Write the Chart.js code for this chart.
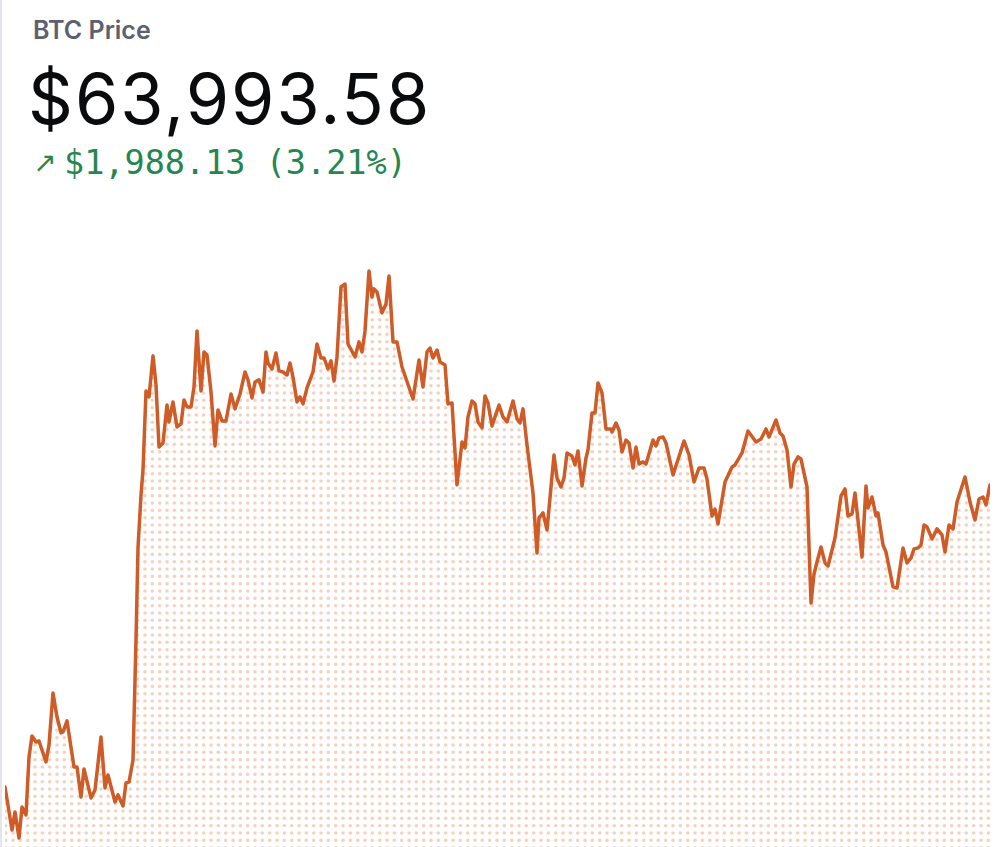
<!DOCTYPE html>
<html>
<head>
<meta charset="utf-8">
<script src="https://cdn.jsdelivr.net/npm/chart.js@4"></script>
<style>
  html, body { margin: 0; padding: 0; background: #fff; }
  #page {
    position: relative;
    width: 1000px;
    height: 847px;
    overflow: hidden;
    border-left: 2px solid #e4e5ea;
    box-sizing: border-box;
  }
  .lbl { position: absolute; white-space: nowrap; line-height: 1; }
  #title { left: 31px; top: 15px; font: 600 25px Inter, sans-serif; color: #5b616e; }
  #price { left: 26px; top: 56px; font: 400 70px Inter, sans-serif; color: #0a0b0d; letter-spacing: 2px; }
  #arrow { left: 31px; top: 146px; font: 400 28px "DejaVu Sans", sans-serif; color: #27854f; }
  #change { left: 62px; top: 143px; font: 400 33.5px "DejaVu Sans Mono", monospace; color: #27854f; }
  #chartBox { position: absolute; left: 0; top: 250px; width: 1000px; height: 597px; }
</style>
</head>
<body>
<div id="page">
  <div class="lbl" id="title">BTC Price</div>
  <div class="lbl" id="price">$63,993.58</div>
  <div class="lbl" id="arrow">↗</div>
  <div class="lbl" id="change">$1,988.13 (3.21%)</div>
  <div id="chartBox"><canvas id="priceChart" width="998" height="597"></canvas></div>
</div>
<script>
// time steps (relative position along the day) and BTC prices
const times = [
  0, 7, 10, 14, 17, 21, 24, 27, 31, 34, 41, 44, 48, 52, 56, 58, 62, 69, 72, 76,
  79, 86, 90, 96, 100, 103, 110, 113, 118, 121, 124, 128, 131, 133, 136, 138, 141, 144, 148, 151,
  154, 158, 162, 164, 168, 172, 176, 179, 182, 186, 189, 192, 196, 199, 202, 206, 210, 213, 217, 221,
  226, 230, 235, 240, 243, 247, 250, 254, 258, 261, 263, 267, 271, 274, 278, 282, 285, 288, 292, 295,
  298, 302, 308, 312, 316, 319, 323, 326, 329, 332, 336, 340, 343, 350, 354, 357, 360, 364, 367, 369,
  372, 377, 381, 384, 388, 392, 397, 408, 414, 418, 422, 425, 428, 432, 435, 440, 443, 447, 452, 457,
  460, 463, 467, 470, 473, 477, 480, 483, 487, 494, 498, 502, 508, 512, 515, 518, 522, 528, 532, 534,
  538, 542, 549, 552, 556, 559, 562, 567, 570, 573, 577, 581, 583, 587, 590, 593, 597, 601, 606, 607,
  611, 614, 617, 621, 624, 628, 631, 634, 638, 641, 648, 651, 654, 658, 661, 668, 679, 684, 689, 694,
  699, 702, 707, 710, 713, 720, 727, 730, 737, 743, 751, 756, 761, 764, 771, 775, 778, 782, 786, 789,
  793, 796, 802, 806, 809, 812, 816, 820, 823, 830, 836, 840, 843, 847, 850, 857, 861, 863, 867, 871,
  873, 878, 881, 888, 892, 898, 902, 906, 909, 913, 916, 919, 922, 927, 932, 937, 940, 944, 948, 952,
  960, 965, 970, 974, 978, 981, 985
];

const prices = [
  62005.45, 61722, 61841, 61669, 61873, 61821, 62203, 62341, 62301, 62308, 62170, 62282, 62624, 62466, 62361, 62367, 62440, 62137, 62137, 61939,
  62124, 61933, 61985, 62334, 61999, 62084, 61906, 61953, 61880, 62032, 62038, 62183, 62973, 63579, 63927, 64092, 64612, 64573, 64843, 64652,
  64243, 64270, 64520, 64408, 64540, 64375, 64395, 64553, 64507, 64507, 64638, 65007, 64612, 64869, 64849, 64605, 64250, 64487, 64415, 64415,
  64592, 64494, 64592, 64737, 64685, 64566, 64671, 64685, 64605, 64869, 64796, 64757, 64862, 64744, 64737, 64717, 64796, 64704, 64540, 64573,
  64527, 64632, 64737, 64921, 64829, 64829, 64757, 64810, 64678, 64836, 65297, 65316, 64921, 64836, 64935, 64869, 65007, 65402, 65231, 65284,
  65264, 65126, 65185, 65369, 64935, 64935, 64770, 64559, 64816, 64638, 64869, 64895, 64829, 64882, 64803, 64783, 64527, 64533, 63994, 64276,
  64237, 64441, 64546, 64527, 64408, 64369, 64579, 64533, 64382, 64520, 64441, 64408, 64546, 64428, 64401, 64494, 64257, 63941, 63546, 63776,
  63809, 63697, 64191, 64039, 63980, 64039, 64204, 64184, 64125, 64217, 63987, 64171, 64224, 64467, 64467, 64665, 64599, 64362, 64362, 64342,
  64401, 64355, 64210, 64289, 64270, 64105, 64243, 64131, 64145, 64131, 64289, 64250, 64303, 64309, 64270, 64059, 64283, 64191, 64013, 64105,
  64105, 64033, 63789, 63835, 63737, 64013, 64112, 64125, 64204, 64349, 64276, 64296, 64362, 64309, 64421, 64336, 64316, 64224, 63980, 64131,
  64178, 64164, 63980, 63216, 63407, 63486, 63585, 63480, 63460, 63644, 63921, 63967, 63789, 63802, 63941, 63519, 63987, 63842, 63914, 63789,
  63809, 63598, 63552, 63322, 63315, 63579, 63480, 63513, 63572, 63579, 63598, 63730, 63717, 63638, 63704, 63664, 63552, 63730, 63704, 63881,
  64046, 63881, 63763, 63901, 63914, 63862, 63993.58
];

const priceMin = 61610;
const priceMax = 65540;

// dotted fill pattern
function dotPattern(ctx) {
  const tile = document.createElement("canvas");
  tile.width = 22;
  tile.height = 22;
  const t = tile.getContext("2d");
  t.fillStyle = "#f4d2c1";
  [3.7, 11, 18.3].forEach((px) => {
    [3.7, 11, 18.3].forEach((py) => {
      t.beginPath();
      t.arc(px, py, 1.8, 0, Math.PI * 2);
      t.fill();
    });
  });
  return ctx.createPattern(tile, "repeat");
}

const ctx = document.getElementById("priceChart").getContext("2d");

new Chart(ctx, {
  type: "line",
  data: {
    datasets: [
      {
        label: "BTC Price",
        data: times.map((t, i) => ({ x: t, y: prices[i] })),
        borderColor: "#cf5b27",
        borderWidth: 3.5,
        borderJoinStyle: "round",
        borderCapStyle: "round",
        pointRadius: 0,
        tension: 0,
        fill: "start",
        backgroundColor: dotPattern(ctx),
      },
    ],
  },
  options: {
    responsive: false,
    animation: false,
    layout: { padding: { left: 3, right: 10, top: 0, bottom: 0 } },
    scales: {
      x: { type: "linear", min: 0, max: 985, display: false },
      y: { min: priceMin, max: priceMax, display: false },
    },
    plugins: {
      legend: { display: false },
      tooltip: { enabled: false },
    },
  },
});
</script>
</body>
</html>
